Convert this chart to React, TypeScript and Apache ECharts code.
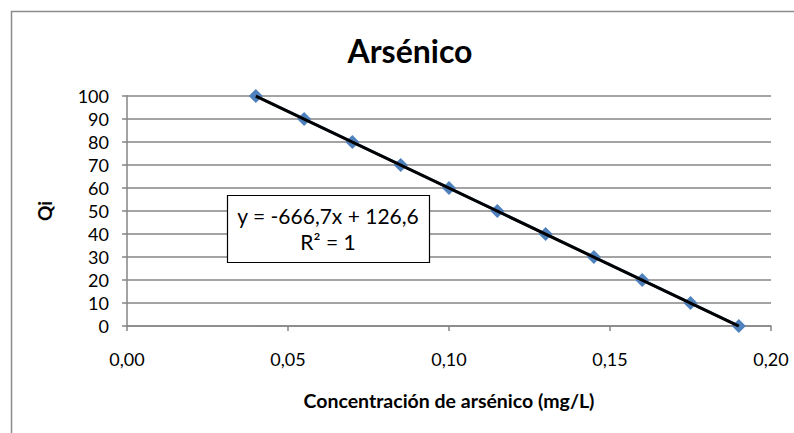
import React, { useEffect, useRef } from "react";
import * as echarts from "echarts";

const concentration = [0.04, 0.055, 0.07, 0.085, 0.1, 0.115, 0.13, 0.145, 0.16, 0.175, 0.19];
const qi = [100, 90, 80, 70, 60, 50, 40, 30, 20, 10, 0];
const trendSlope = -666.7;
const trendIntercept = 126.6;
const trendX = [0.04, 0.19];
const equationText = "y = -666,7x + 126,6";
const r2Text = "R² = 1";
const titleText = "Arsénico";
const xTitle = "Concentración de arsénico (mg/L)";
const yTitle = "Qi";

const FONT = "Lato, 'Open Sans', sans-serif";

export default function App() {
  const ref = useRef<HTMLDivElement>(null);
  useEffect(() => {
    if (!ref.current) return;
    const chart = echarts.init(ref.current, null, { renderer: "svg" });
    const trendData = trendX.map((x) => [x, trendSlope * x + trendIntercept]);
    chart.setOption({
      animation: false,
      backgroundColor: "#ffffff",
      textStyle: { fontFamily: FONT },
      grid: { left: 127, right: 23, top: 96, bottom: 107, containLabel: false },
      xAxis: {
        type: "value",
        min: 0,
        max: 0.2,
        interval: 0.05,
        name: xTitle,
        nameLocation: "middle",
        nameGap: 64,
        nameTextStyle: { fontFamily: FONT, fontWeight: "bold", fontSize: 19.5, color: "#000" },
        axisLine: { show: true, lineStyle: { color: "#868686", width: 1.5 } },
        axisTick: { show: true, length: 5, lineStyle: { color: "#868686", width: 1.5 } },
        axisLabel: {
          margin: 24,
          fontFamily: FONT,
          fontSize: 18,
          color: "#000",
          formatter: (v: number) => v.toFixed(2).replace(".", ","),
        },
        splitLine: { show: false },
      },
      yAxis: {
        type: "value",
        min: 0,
        max: 100,
        interval: 10,
        name: yTitle,
        nameLocation: "middle",
        nameGap: 73,
        nameRotate: 90,
        nameTextStyle: { fontFamily: FONT, fontWeight: "bold", fontSize: 19, color: "#000" },
        axisLine: { show: true, lineStyle: { color: "#868686", width: 1.5 } },
        axisTick: { show: true, length: 5, lineStyle: { color: "#868686", width: 1.5 } },
        axisLabel: { margin: 18, fontFamily: FONT, fontSize: 18, color: "#000" },
        splitLine: { show: true, lineStyle: { color: "#868686", width: 1.5 } },
      },
      series: [
        {
          type: "line",
          data: concentration.map((x, i) => [x, qi[i]]),
          symbol: "diamond",
          symbolSize: 14,
          itemStyle: { color: "#4F81BD" },
          lineStyle: { color: "#4F81BD", width: 3 },
          z: 2,
        },
        {
          type: "line",
          data: trendData,
          symbol: "none",
          lineStyle: { color: "#000000", width: 3 },
          z: 3,
        },
      ],
      graphic: [
        {
          type: "rect",
          left: 9,
          top: 9,
          shape: { x: 0, y: 0, width: 800, height: 440 },
          style: { fill: "none", stroke: "#8c8c8c", lineWidth: 1.5 },
          silent: true,
        },
        {
          type: "text",
          x: 410,
          y: 50,
          style: {
            text: titleText,
            fontFamily: FONT,
            fontWeight: "bold",
            fontSize: 32,
            fill: "#000",
            align: "center",
            verticalAlign: "middle",
          },
        },
        {
          type: "rect",
          shape: { x: 227.5, y: 195.5, width: 202, height: 67 },
          style: { fill: "#ffffff", stroke: "#000", lineWidth: 1.2 },
          z: 10,
        },
        {
          type: "text",
          x: 328,
          y: 215,
          z: 11,
          style: {
            text: equationText,
            fontFamily: FONT,
            fontSize: 21,
            fill: "#000",
            align: "center",
            verticalAlign: "middle",
          },
        },
        {
          type: "text",
          x: 328,
          y: 241,
          z: 11,
          style: {
            text: r2Text,
            fontFamily: FONT,
            fontSize: 21,
            fill: "#000",
            align: "center",
            verticalAlign: "middle",
          },
        },
      ],
    });
    return () => chart.dispose();
  }, []);
  return (
    <div
      ref={ref}
      style={{ position: "fixed", left: 0, top: 0, width: 794, height: 433 }}
    />
  );
}
